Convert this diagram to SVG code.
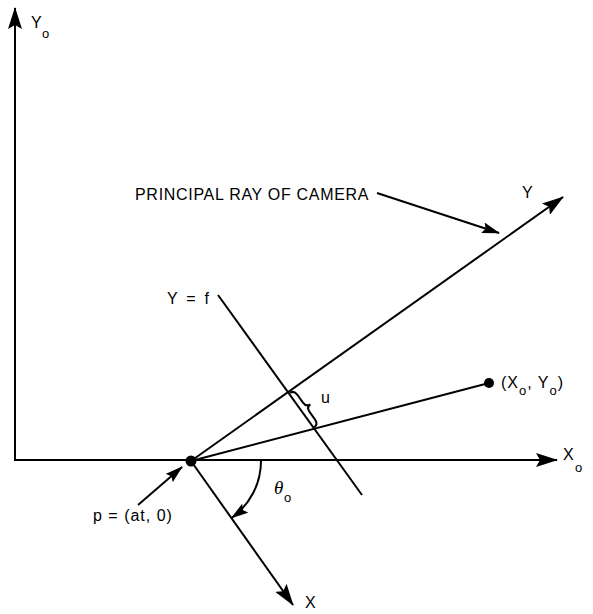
<svg xmlns="http://www.w3.org/2000/svg" width="593" height="614" viewBox="0 0 593 614">
<style>
.ln{stroke:#000;stroke-width:2;fill:none}
.t{font-family:"Liberation Sans",Arial,sans-serif;font-size:16px;fill:#000}
.s{font-family:"Liberation Sans",Arial,sans-serif;font-size:13px;fill:#000}
</style>
<defs>
<marker id="big" viewBox="0 0 22 14" refX="21" refY="7" markerWidth="22" markerHeight="14" markerUnits="userSpaceOnUse" orient="auto">
<path d="M0,0 L22,7 L0,14 L4,7 Z" fill="#000"/>
</marker>
<marker id="sm" viewBox="0 0 18 11" refX="17" refY="5.5" markerWidth="18" markerHeight="11" markerUnits="userSpaceOnUse" orient="auto">
<path d="M0,0 L18,5.5 L0,11 L3,5.5 Z" fill="#000"/>
</marker>
</defs>
<g id="connectors">
<line class="ln" x1="15" y1="461" x2="15" y2="8" marker-end="url(#big)"/>
<line class="ln" x1="15" y1="460" x2="557" y2="460" marker-end="url(#big)"/>
<line class="ln" x1="191" y1="461" x2="563" y2="197" marker-end="url(#big)"/>
<line class="ln" x1="191" y1="461" x2="293" y2="605" marker-end="url(#big)"/>
<line class="ln" x1="191" y1="461" x2="489" y2="383"/>
<line class="ln" x1="218" y1="295" x2="362" y2="495"/>
<line class="ln" x1="377" y1="193" x2="499" y2="233" marker-end="url(#sm)"/>
<line class="ln" x1="138" y1="505" x2="182" y2="467" marker-end="url(#sm)"/>
<path class="ln" d="M261,461 A70,70 0 0 1 231.5,518" marker-end="url(#sm)"/>
<path class="ln" transform="translate(290,393) rotate(54.6)" d="M0,0 Q0,-5 6,-5 L15,-5 Q21,-5 21,-10 Q21,-5 27,-5 L36,-5 Q42,-5 42,0"/>
</g>
<g id="p">
<circle cx="191" cy="461" r="5.5" fill="#000"/>
<text class="t" x="93" y="521" font-size="15" letter-spacing="1" xml:space="preserve">p = (at, 0)</text>
</g>
<g id="point">
<circle cx="489" cy="383" r="5" fill="#000"/>
<text class="t" x="501" y="388" letter-spacing="1">(X<tspan class="s" dy="7">o</tspan><tspan dy="-7">, Y</tspan><tspan class="s" dy="7">o</tspan><tspan dy="-7">)</tspan></text>
</g>
<g id="labels">
<text class="t" x="31" y="28">Y</text><text class="s" x="42" y="38">o</text>
<text class="t" x="563" y="460">X</text><text class="s" x="575" y="472">o</text>
<text class="t" x="522" y="198">Y</text>
<text class="t" x="305" y="608">X</text>
<text class="t" x="135" y="200" letter-spacing="0.7">PRINCIPAL RAY OF CAMERA</text>
<text class="t" x="167" y="304" xml:space="preserve">Y  =  f</text>
<text class="t" x="321" y="403" font-size="14">u</text>
<text x="274" y="494" font-family="Liberation Serif,serif" font-style="italic" font-size="19">θ</text><text class="s" x="284" y="502">o</text>
</g>
</svg>
